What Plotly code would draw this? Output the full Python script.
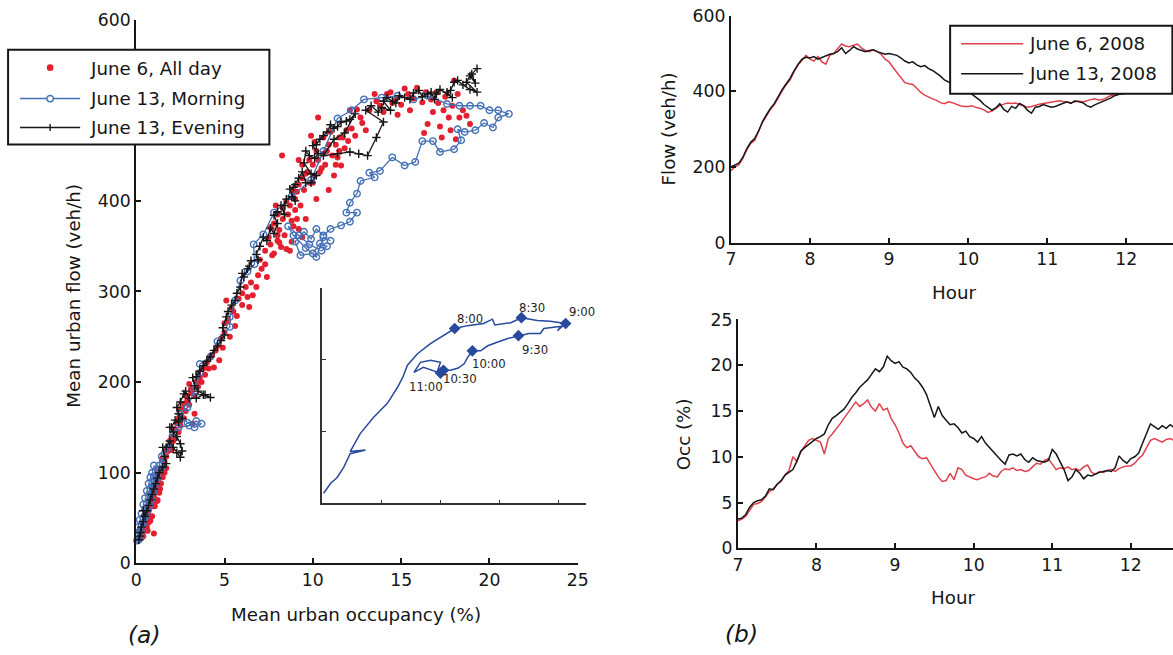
import plotly.graph_objects as go

# ---------------- (a) flow vs occupancy ----------------
# June 6, all day: (occupancy %, flow veh/h)
ALLDAY_PTS = [
    (0.15, 27), (0.2, 30), (0.25, 34), (0.3, 28), (0.35, 38), (0.4, 42), (0.45, 36), (0.5, 45),
    (0.55, 50), (0.6, 40), (0.65, 55), (0.7, 58), (0.75, 48), (0.8, 62), (0.85, 66), (0.9, 52),
    (0.95, 70), (1.0, 74), (1.05, 63), (1.1, 80), (1.15, 85), (1.2, 70), (1.25, 90), (1.3, 95),
    (1.35, 82), (1.4, 100), (1.5, 105), (1.0, 33), (0.8, 47), (1.2, 69),
    (0.2, 38), (0.3, 45), (0.4, 30), (0.5, 58), (0.6, 62), (0.7, 45), (0.9, 85), (1.1, 68),
    (1.3, 78), (1.4, 88), (1.5, 95), (1.6, 100), (1.7, 105), (1.45, 115), (1.65, 125), (1.25, 102),
    (0.65, 36),
    (1.6, 112), (1.7, 118), (1.8, 124), (1.9, 128), (2.0, 140), (2.1, 135), (2.2, 148), (2.3, 155),
    (2.4, 160), (2.5, 152), (2.6, 170), (2.7, 176), (2.8, 168), (2.9, 180), (3.0, 198), (3.1, 188),
    (3.2, 154), (3.3, 165), (3.4, 200), (3.5, 210), (3.6, 205), (3.8, 215), (4.0, 222), (4.2, 228),
    (4.4, 216), (4.5, 235), (4.7, 224), (4.8, 248), (5.0, 255), (5.1, 290), (5.3, 250), (5.2, 268),
    (5.5, 278), (5.7, 273), (5.8, 292), (6.0, 298),
    (1.9, 135), (2.0, 125), (2.2, 138), (2.4, 145), (2.5, 170), (2.7, 160), (2.8, 185), (3.0, 175),
    (3.1, 192), (3.3, 185), (3.5, 195), (3.7, 200), (3.9, 208), (4.1, 215), (4.3, 230), (4.6, 240),
    (4.9, 238), (5.0, 265), (5.4, 282), (5.6, 262), (6.0, 285), (6.2, 305), (6.6, 296), (7.1, 325),
    (7.3, 330),
    (6.3, 294), (6.4, 283), (6.8, 305), (6.9, 318), (7.4, 316), (6.5, 310),
    (7.0, 335), (7.3, 345), (7.6, 352), (7.8, 342), (8.0, 356), (8.2, 349), (8.7, 345), (7.7, 340),
    (8.1, 354), (8.5, 347), (9.2, 369), (8.4, 362), (8.9, 372),
    (7.5, 360), (7.8, 375), (8.0, 385), (8.3, 392), (8.5, 400), (8.7, 395), (8.9, 410), (9.0, 402),
    (9.2, 418), (9.4, 425), (9.5, 412), (9.7, 432), (9.8, 420), (10.0, 440), (10.1, 428), (10.3, 445),
    (10.5, 436), (10.6, 452), (10.9, 412), (11.2, 428), (11.6, 439), (10.8, 455), (11.0, 476), (11.3, 462),
    (11.5, 470), (11.8, 458), (12.0, 466), (9.9, 472), (10.3, 492), (8.26, 450), (9.6, 380), (9.0, 390),
    (10.2, 402), (11.4, 448),
    (7.6, 370), (7.9, 395), (8.1, 368), (8.3, 380), (8.6, 385), (8.8, 378), (9.1, 410), (9.3, 395),
    (9.4, 440), (9.6, 430), (9.8, 445), (10.0, 420), (10.2, 455), (10.4, 432), (10.7, 440), (10.9, 462),
    (11.1, 450), (11.3, 440), (11.7, 470), (11.9, 478), (12.2, 480), (12.4, 472), (9.1, 380), (8.0, 362),
    (8.8, 355), (9.4, 360), (10.1, 465), (9.2, 445), (10.6, 470), (11.5, 455),
    (12.1, 500), (12.5, 501), (12.8, 486), (13.0, 478), (13.5, 518), (14.2, 518), (15.2, 524), (15.7, 513),
    (16.2, 509), (14.8, 495), (15.5, 500), (16.8, 498), (17.4, 500), (17.7, 492), (18.3, 492), (18.7, 494),
    (18.2, 518), (18.0, 533), (17.0, 520), (13.8, 505), (14.5, 508), (16.5, 485), (17.8, 478), (17.2, 482),
    (12.7, 492), (13.2, 500), (13.6, 510), (14.0, 498), (14.4, 520), (14.7, 512), (15.0, 506), (15.4, 518),
    (15.9, 525), (16.4, 520), (16.7, 512), (17.1, 508), (17.5, 515), (17.9, 505), (18.5, 500), (18.9, 485),
    (17.3, 470), (16.3, 475), (18.1, 468),
]

# June 13, morning path
MORNING_PTS = [
    (0.05, 25), (0.1, 30), (0.15, 26), (0.2, 35), (0.1, 40), (0.25, 30), (0.3, 42), (0.2, 48),
    (0.35, 38), (0.4, 50), (0.3, 55), (0.45, 45), (0.5, 60), (0.4, 65), (0.55, 52), (0.6, 66),
    (0.5, 72), (0.65, 58), (0.7, 75), (0.6, 80), (0.75, 64), (0.8, 82), (0.7, 88), (0.85, 70),
    (0.9, 90), (0.8, 95), (0.95, 78), (1.0, 96), (0.9, 100), (1.05, 84), (1.1, 102), (1.0, 108),
    (1.15, 90), (1.2, 104), (1.25, 95), (1.3, 108), (1.4, 104), (1.5, 110), (1.45, 118), (1.6, 121),
    (1.8, 128), (2.1, 143), (2.4, 150), (3.0, 152), (3.4, 157), (3.7, 154), (3.3, 150), (2.9, 155),
    (2.5, 165), (2.9, 172), (3.3, 190), (3.6, 210), (3.6, 220), (4.2, 228), (4.6, 245), (5.3, 261),
    (5.3, 272), (5.6, 290), (5.9, 312), (6.3, 322), (6.7, 330), (6.65, 352), (7.2, 363), (7.8, 387),
    (8.8, 405), (9.9, 423), (10.6, 455), (11.4, 491), (12.2, 500), (12.9, 512), (13.9, 514), (14.8, 516),
    (15.7, 512), (16.5, 516), (17.6, 507), (18.3, 505), (18.9, 505), (19.5, 505), (20.0, 500), (20.5, 500),
    (21.1, 496), (20.5, 492), (20.2, 481), (19.7, 486), (19.2, 478), (18.6, 476), (18.2, 479), (18.4, 467),
    (18.0, 457), (17.2, 454), (16.8, 466), (16.2, 466), (15.8, 443), (15.2, 439), (14.5, 448), (13.8, 433),
    (13.2, 431), (13.5, 426), (12.7, 422), (12.5, 408), (12.1, 398), (11.9, 387), (12.5, 387), (12.1, 377),
    (11.6, 373), (11.0, 369), (10.6, 362), (10.2, 369), (9.9, 358), (9.5, 366), (9.0, 355), (9.3, 340),
    (10.0, 342), (10.4, 353), (10.8, 350), (10.5, 345), (9.8, 352), (9.2, 362), (8.6, 372), (8.9, 362),
    (9.6, 348), (10.2, 338), (10.6, 360), (11.0, 356),
]

# June 13, evening path
EVENING_PTS = [
    (19.3, 546), (19.0, 540), (19.2, 530), (18.9, 538), (18.7, 531), (19.3, 520), (18.9, 523), (18.5, 528),
    (18.2, 533), (18.0, 531), (17.8, 522), (17.6, 520), (17.9, 514), (17.2, 523), (17.0, 518), (16.9, 512),
    (16.7, 520), (16.5, 518), (16.2, 515), (16.0, 522), (15.7, 519), (15.5, 512), (15.2, 514), (14.9, 516),
    (14.7, 508), (14.5, 510), (14.2, 514), (14.0, 510), (14.4, 500), (13.9, 503), (13.7, 498), (13.3, 505),
    (13.0, 500), (14.0, 487), (13.6, 470), (13.1, 450), (12.6, 452), (12.1, 454), (11.4, 452), (10.6, 450),
    (11.2, 468), (11.8, 475), (12.4, 496), (12.1, 490), (11.9, 488), (11.6, 487), (11.4, 482), (11.2, 480),
    (11.0, 484), (10.8, 476), (10.6, 472), (10.4, 468), (10.2, 462), (10.0, 461), (10.3, 452), (10.1, 447),
    (9.8, 450), (9.6, 455), (9.5, 442), (9.9, 430), (10.2, 428), (9.9, 420), (9.6, 420), (9.4, 432),
    (9.2, 425), (9.0, 418), (8.9, 415), (8.7, 413), (9.0, 400), (8.8, 405), (8.5, 402), (8.4, 395),
    (8.2, 395), (8.4, 385), (8.0, 388), (7.8, 384), (8.0, 375), (7.8, 364), (7.6, 370), (7.4, 356),
    (7.2, 360), (7.0, 350), (6.8, 341), (6.9, 335), (6.5, 334), (6.4, 328), (6.3, 325), (6.1, 316),
    (6.0, 320), (5.9, 305), (5.7, 298), (5.6, 290), (5.4, 285), (5.2, 278), (5.1, 272), (4.9, 260),
    (5.0, 252), (4.8, 246), (4.6, 240), (4.4, 235), (4.2, 228), (4.0, 223), (3.8, 218), (3.6, 212),
    (3.4, 206), (3.2, 205), (3.3, 196), (3.5, 190), (3.9, 186), (4.2, 183), (3.8, 186), (3.4, 182),
    (3.0, 182), (2.8, 190), (2.7, 187), (2.5, 178), (2.3, 172), (2.4, 165), (2.6, 160), (2.4, 156),
    (2.2, 158), (2.0, 150), (1.9, 150), (2.1, 145), (2.3, 140), (2.5, 132), (2.6, 124), (2.5, 117),
    (2.3, 122), (2.1, 128), (1.9, 135), (1.7, 128), (1.5, 128), (1.6, 118), (1.7, 110), (1.5, 106),
    (1.3, 100), (1.2, 94), (1.1, 88), (1.0, 82), (0.9, 76), (0.8, 70), (0.7, 64), (0.6, 58),
    (0.5, 52), (0.4, 58), (0.4, 46), (0.3, 40), (0.25, 34), (0.2, 30), (0.15, 26),
]

# Inset: morning hysteresis loop (scaled units)
INSET_PATH = [
    (0.02, 0.14), (0.14, 0.28), (0.25, 0.36), (0.36, 0.50), (0.47, 0.69), (0.73, 0.74), (0.47, 0.72),
    (0.64, 0.97), (0.86, 1.19), (1.10, 1.39), (1.27, 1.61), (1.36, 1.75), (1.44, 1.92), (1.61, 2.08),
    (1.83, 2.22), (2.05, 2.33), (2.24, 2.43), (2.46, 2.47), (2.73, 2.50), (2.88, 2.56), (2.92, 2.48),
    (3.19, 2.51), (3.37, 2.58), (3.64, 2.54), (3.86, 2.53), (4.12, 2.50), (3.98, 2.40), (4.05, 2.46),
    (3.75, 2.43), (3.69, 2.36), (3.50, 2.36), (3.32, 2.33), (3.14, 2.29), (2.96, 2.24), (2.80, 2.19),
    (2.68, 2.12), (2.54, 2.12), (2.46, 2.03), (2.40, 1.94), (2.30, 1.88), (2.17, 1.85), (2.05, 1.85),
    (2.00, 1.81), (1.71, 1.89), (1.55, 1.82), (1.66, 1.96), (1.83, 1.99), (2.00, 1.96), (1.95, 1.84),
]
INSET_TIMES = ["8:00", "8:30", "9:00", "9:30", "10:00", "10:30", "11:00"]
INSET_MARK_X = [2.24, 3.37, 4.12, 3.32, 2.54, 2.05, 2.00]
INSET_MARK_Y = [2.43, 2.58, 2.50, 2.33, 2.12, 1.85, 1.81]
INSET_LABEL_SHIFT = [(15, 10), (11, 10), (16, 11), (17, -14), (17, -13), (17, -9), (-14, -14)]

# ---------------- (b) time series, 3-minute steps from 7:00 ----------------
START_HOUR = 7.0
STEP_HOURS = 0.05

FLOW_JUN6 = [
    190, 200, 205, 222, 245, 262, 270, 292, 318, 335, 352, 365, 385, 402, 418, 430, 452, 470, 482, 495,
    485, 480, 492, 478, 472, 495, 500, 512, 525, 520, 518, 522, 525, 515, 508, 505, 510, 505, 498, 485,
    478, 463, 450, 438, 423, 420, 418, 408, 397, 390, 384, 380, 376, 370, 367, 372, 370, 365, 362, 360,
    360, 362, 357, 355, 351, 344, 348, 355, 362, 366, 369, 368, 369, 365, 362, 358, 360, 364, 366, 368,
    370, 372, 374, 375, 373, 371, 370, 372, 374, 372, 376, 378, 380, 377, 378, 383, 388, 390, 391, 393,
    394, 396, 398, 400, 399, 402, 404, 403, 405, 407, 406, 408, 410,
]
FLOW_JUN13 = [
    200, 205, 210, 225, 248, 265, 275, 295, 320, 338, 355, 368, 388, 405, 420, 435, 455, 472, 485, 490,
    488, 492, 485, 490, 495, 498, 500, 505, 515, 500, 508, 518, 512, 508, 505, 508, 510, 505, 502, 498,
    500, 498, 495, 488, 480, 475, 478, 470, 465, 468, 460, 455, 448, 440, 430, 425, 420, 415, 410, 405,
    398, 392, 385, 376, 365, 357, 350, 356, 367, 352, 345, 360, 355, 368, 362, 350, 342, 358, 360, 365,
    362, 358, 360, 364, 370, 372, 368, 375, 372, 370, 362, 358, 364, 368, 372, 376, 382, 388, 392, 396,
    398, 400, 398, 402, 400, 404, 402, 405, 403, 406, 404, 408, 406,
]
OCC_JUN6 = [
    3.0, 3.2, 3.5, 4.2, 4.8, 4.9, 5.1, 5.6, 6.2, 6.5, 7.0, 7.3, 8.0, 8.5, 10.0, 9.5, 10.5, 11.2, 11.8, 12.0,
    11.8, 11.6, 10.3, 12.0, 12.5, 13.0, 13.6, 14.2, 14.8, 15.4, 16.0, 15.5, 15.8, 16.2, 15.4, 15.0, 15.8, 15.1, 15.3, 14.2,
    13.5, 12.6, 11.5, 11.0, 11.2, 10.6, 10.0, 9.8, 9.9, 9.2, 8.5, 7.8, 7.3, 7.4, 8.2, 7.5, 8.8, 8.6, 8.0, 7.8,
    7.6, 7.5, 7.7, 7.8, 8.2, 7.9, 7.8, 8.4, 8.7, 8.6, 8.8, 8.5, 8.6, 8.4, 8.5, 8.9, 9.3, 9.2, 9.6, 9.8,
    9.2, 8.6, 8.8, 8.7, 8.9, 8.6, 8.7, 8.5, 8.9, 9.1, 8.3, 8.1, 8.4, 8.3, 8.5, 8.6, 8.4, 8.7, 8.9, 9.0,
    9.0, 9.3, 9.8, 10.2, 11.0, 11.8, 12.0, 11.8, 11.6, 11.9, 12.0, 11.8, 12.0,
]
OCC_JUN13 = [
    3.2, 3.3, 3.7, 4.5, 5.0, 5.2, 5.3, 5.7, 6.5, 6.4, 7.0, 7.4, 8.0, 8.3, 8.6, 9.5, 10.6, 11.0, 11.3, 11.7,
    12.0, 12.2, 12.5, 13.5, 14.2, 14.5, 14.8, 15.2, 15.8, 16.5, 17.0, 17.6, 18.0, 18.4, 19.0, 19.6, 19.3, 19.8, 21.0, 20.5,
    20.2, 20.4, 19.8, 19.6, 19.2, 18.6, 18.2, 17.6, 16.8, 15.5, 14.3, 15.5, 14.5, 14.0, 13.5, 13.6, 13.2, 12.6, 12.8, 12.2,
    12.0, 11.6, 12.2, 11.5, 11.0, 10.6, 10.1, 9.6, 9.2, 10.2, 10.3, 10.1, 10.3, 9.7, 9.4, 9.9, 9.6, 9.5, 9.4, 9.6,
    10.8, 10.3, 9.5, 8.6, 7.4, 7.8, 8.6, 8.2, 7.6, 8.0, 7.9, 8.1, 8.3, 8.4, 8.5, 8.4, 8.8, 10.1, 9.6, 9.3,
    9.8, 10.0, 10.4, 11.5, 12.6, 13.6, 13.3, 13.0, 13.4, 13.1, 13.5, 13.2, 13.4,
]

HOURS = [START_HOUR + i * STEP_HOURS for i in range(len(FLOW_JUN6))]

LEGEND_A = ["June 6, All day", "June 13, Morning", "June 13, Evening"]
LEGEND_B = ["June 6, 2008", "June 13, 2008"]

# ---------------- page geometry ----------------
# Layout positions below are given in page pixels of a 1173 x 655 view; the
# figure itself sits slightly inset and scaled in that view, so page pixels are
# mapped into figure pixels with the measured offset/scale.
PAGE_W, PAGE_H = 1173, 655
SX, SY = 0.9854, 0.9706
OX, OY = 5.0, 9.6
W = int(round(PAGE_W / SX - OX + 1))
H = int(round(PAGE_H / SY - OY + 1))

FONT = "DejaVu Sans, Verdana, sans-serif"
INK = "#161616"
RED = "#e3202f"
RED_LINE = "#e0404c"
BLUE = "#4470b6"
INSET_BLUE = "#274a9e"
FS = 1.0 / SX  # font scaling so text ends up at page size


def px_x(p):
    return min(1.0, max(0.0, (p / SX - OX) / W))


def px_y(p):
    return min(1.0, max(0.0, 1 - (p / SY - OY) / H))


def unzip(pts):
    return [p[0] for p in pts], [p[1] for p in pts]


fig = go.Figure()

ax, ay = unzip(ALLDAY_PTS)
fig.add_trace(go.Scatter(
    x=ax, y=ay, mode="markers", name=LEGEND_A[0], showlegend=False,
    marker=dict(color=RED, size=6, line=dict(width=0)), cliponaxis=False,
))
mx, my = unzip(MORNING_PTS)
fig.add_trace(go.Scatter(
    x=mx, y=my, mode="lines+markers", name=LEGEND_A[1], showlegend=False,
    line=dict(color=BLUE, width=1.3),
    marker=dict(symbol="circle-open", color=BLUE, size=6.5, line=dict(width=1.4, color=BLUE)),
    cliponaxis=False,
))
ex, ey = unzip(EVENING_PTS)
fig.add_trace(go.Scatter(
    x=ex, y=ey, mode="lines+markers", name=LEGEND_A[2], showlegend=False,
    line=dict(color=INK, width=1.3),
    marker=dict(symbol="cross-thin", color=INK, size=6, line=dict(width=1.4, color=INK)),
    cliponaxis=False,
))

# inset
ix, iy = unzip(INSET_PATH)
fig.add_trace(go.Scatter(
    x=ix, y=iy, xaxis="x4", yaxis="y4", mode="lines", showlegend=False,
    line=dict(color=INSET_BLUE, width=1.5), cliponaxis=False,
))
fig.add_trace(go.Scatter(
    x=INSET_MARK_X, y=INSET_MARK_Y, xaxis="x4", yaxis="y4", mode="markers", showlegend=False,
    marker=dict(symbol="diamond", color=INSET_BLUE, size=9), cliponaxis=False,
))

# (b) flow
fig.add_trace(go.Scatter(
    x=HOURS, y=FLOW_JUN6, xaxis="x2", yaxis="y2", mode="lines", name=LEGEND_B[0],
    showlegend=False, line=dict(color=RED_LINE, width=1.5),
))
fig.add_trace(go.Scatter(
    x=HOURS, y=FLOW_JUN13, xaxis="x2", yaxis="y2", mode="lines", name=LEGEND_B[1],
    showlegend=False, line=dict(color=INK, width=1.5),
))
# (b) occupancy
fig.add_trace(go.Scatter(
    x=HOURS, y=OCC_JUN6, xaxis="x3", yaxis="y3", mode="lines", showlegend=False,
    line=dict(color=RED_LINE, width=1.5),
))
fig.add_trace(go.Scatter(
    x=HOURS, y=OCC_JUN13, xaxis="x3", yaxis="y3", mode="lines", showlegend=False,
    line=dict(color=INK, width=1.5),
))

axis_common = dict(
    showgrid=False, zeroline=False, showline=True, linecolor=INK, linewidth=2,
    ticks="inside", ticklen=5, tickwidth=1.5, tickcolor=INK,
    tickfont=dict(family=FONT, size=17 * FS, color=INK), fixedrange=True,
)
inset_axis = dict(
    showticklabels=False, showgrid=False, zeroline=False, showline=True,
    linecolor="#333", linewidth=1.5, ticks="inside", ticklen=4, tickcolor="#333", fixedrange=True,
)

# x range end of panel (b) follows the page edge
B_TOP_LEFT, B_BOT_LEFT, B_RIGHT = 730, 737, PAGE_W
TOP_PX_PER_HOUR, BOT_PX_PER_HOUR = 79.0, 78.5

fig.update_layout(
    width=W, height=H, margin=dict(l=0, r=0, t=0, b=0),
    paper_bgcolor="white", plot_bgcolor="white",
    font=dict(family=FONT, color=INK),
    showlegend=False,
    xaxis=dict(domain=[px_x(136), px_x(577)], range=[0, 25], tickvals=[0, 5, 10, 15, 20, 25],
               anchor="y", **axis_common),
    yaxis=dict(domain=[px_y(563), px_y(19)], range=[0, 600], tickvals=[0, 100, 200, 300, 400, 600],
               anchor="x", **axis_common),
    xaxis2=dict(domain=[px_x(B_TOP_LEFT), px_x(B_RIGHT)],
                range=[7, 7 + (B_RIGHT - B_TOP_LEFT) / TOP_PX_PER_HOUR],
                tickvals=[7, 8, 9, 10, 11, 12], anchor="y2", **axis_common),
    yaxis2=dict(domain=[px_y(242), px_y(15)], range=[0, 600], tickvals=[0, 200, 400, 600],
                anchor="x2", **axis_common),
    xaxis3=dict(domain=[px_x(B_BOT_LEFT), px_x(B_RIGHT)],
                range=[7, 7 + (B_RIGHT - B_BOT_LEFT) / BOT_PX_PER_HOUR],
                tickvals=[7, 8, 9, 10, 11, 12], anchor="y3", **axis_common),
    yaxis3=dict(domain=[px_y(548), px_y(319)], range=[0, 25], tickvals=[0, 5, 10, 15, 20, 25],
                anchor="x3", **axis_common),
    xaxis4=dict(domain=[px_x(322), px_x(585)], range=[0, 4.46], tickvals=[1, 2, 3, 4],
                anchor="y4", **inset_axis),
    yaxis4=dict(domain=[px_y(503), px_y(287)], range=[0, 3], tickvals=[1, 2],
                anchor="x4", **inset_axis),
)

shapes = []
annotations = []


def paper_text(text, x, y, size=18, angle=0, italic=False, anchor="center"):
    annotations.append(dict(
        text=f"<i>{text}</i>" if italic else text, x=px_x(x), y=px_y(y), xref="paper", yref="paper",
        showarrow=False, textangle=angle, xanchor=anchor, yanchor="middle",
        font=dict(family=FONT, size=size * FS, color=INK),
    ))


def box(x0, y0, x1, y1):
    shapes.append(dict(type="rect", xref="paper", yref="paper", layer="above",
                       x0=px_x(x0), x1=px_x(x1), y0=px_y(y1), y1=px_y(y0),
                       fillcolor="white", line=dict(color=INK, width=2)))


def seg(x0, y0, x1, y1, color, width=1.5):
    shapes.append(dict(type="line", xref="paper", yref="paper", layer="above",
                       x0=px_x(x0), x1=px_x(x1), y0=px_y(y0), y1=px_y(y1),
                       line=dict(color=color, width=width)))


def dot(cx, cy, r, color, filled):
    shapes.append(dict(type="circle", xref="paper", yref="paper", layer="above",
                       x0=px_x(cx - r), x1=px_x(cx + r), y0=px_y(cy + r), y1=px_y(cy - r),
                       fillcolor=color if filled else "white", line=dict(color=color, width=1.4)))


# legend for (a)
box(8, 49, 269, 144)
dot(50, 67, 2.6, RED, True)
seg(20, 98, 80, 98, BLUE)
dot(50, 98, 3.2, BLUE, False)
seg(20, 127, 80, 127, INK)
seg(50, 123.5, 50, 130.5, INK, 1.4)
for label, yy in zip(LEGEND_A, [68, 98, 127]):
    paper_text(label, 88, yy, size=18, anchor="left")

# legend for (b)
box(949, 25, PAGE_W - 2, 93)
seg(960, 43, 1022, 43, RED_LINE)
seg(960, 73, 1022, 73, INK)
for label, yy in zip(LEGEND_B, [43, 73]):
    paper_text(label, 1026, yy, size=18, anchor="left")

paper_text("Mean urban occupancy (%)", 356, 614)
paper_text("Mean urban flow (veh/h)", 73, 295, angle=-90)
paper_text("Flow (veh/h)", 668, 128, angle=-90)
paper_text("Hour", 953, 292)
paper_text("Occ (%)", 683, 434, angle=-90)
paper_text("Hour", 952, 597)
paper_text("(a)", 144, 635, size=23, italic=True)
paper_text("(b)", 741, 634, size=23, italic=True)

for t, x, y, (dx, dy) in zip(INSET_TIMES, INSET_MARK_X, INSET_MARK_Y, INSET_LABEL_SHIFT):
    annotations.append(dict(
        text=t, x=x, y=y, xref="x4", yref="y4", showarrow=False, xshift=dx, yshift=dy,
        font=dict(family=FONT, size=11.5 * FS, color="#222"),
    ))

fig.update_layout(shapes=shapes, annotations=annotations)

fig.write_html("out.html")
